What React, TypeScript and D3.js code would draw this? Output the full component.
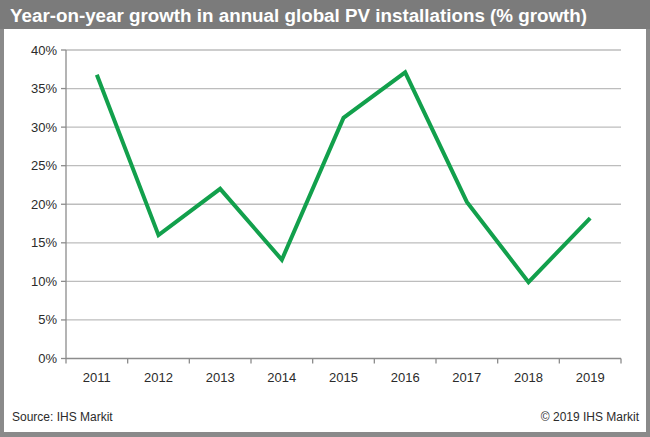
import React from "react";
import * as d3 from "d3";

const years = ["2011", "2012", "2013", "2014", "2015", "2016", "2017", "2018", "2019"];
const growth = [36.8, 16.0, 22.0, 12.8, 31.2, 37.1, 20.3, 9.9, 18.2];
const yTicks = [0, 5, 10, 15, 20, 25, 30, 35, 40];
const title = "Year-on-year growth in annual global PV installations (% growth)";
const source = "Source: IHS Markit";
const copyright = "© 2019 IHS Markit";

export default function App() {
  const W = 650, H = 437;
  const left = 66, right = 621, top = 50, bottom = 358.5;
  const x = d3.scaleBand<string>().domain(years).range([left, right]);
  const y = d3.scaleLinear().domain([0, 40]).range([bottom, top]);
  const line = d3
    .line<number>()
    .x((_, i) => (x(years[i]) as number) + x.bandwidth() / 2)
    .y((d) => y(d));
  const font = "'Liberation Sans', Arial, sans-serif";
  return (
    <svg width={W} height={H} style={{ position: "absolute", left: 0, top: 0 }} fontFamily={font}>
      <rect x={0} y={0} width={W} height={H} fill="#8a8a8a" />
      <rect x={4} y={29} width={W - 8} height={H - 29 - 5} fill="#ffffff" />
      <rect x={0} y={0} width={W} height={29} fill="#7b7b7b" />
      <text x={10} y={22} fill="#ffffff" fontSize={18.8} fontWeight="bold">
        {title}
      </text>
      {yTicks.map((t) => (
        <g key={t}>
          {t > 0 && (
            <line x1={left} x2={right} y1={y(t)} y2={y(t)} stroke="#bdbdbd" strokeWidth={1.3} />
          )}
          <line x1={left - 5} x2={left} y1={y(t)} y2={y(t)} stroke="#8c8c8c" strokeWidth={1.3} />
          <text x={left - 9} y={y(t) + 4.5} textAnchor="end" fontSize={13} fill="#2b2b2b">
            {t + "%"}
          </text>
        </g>
      ))}
      <line x1={left} x2={left} y1={top} y2={bottom} stroke="#8c8c8c" strokeWidth={1.3} />
      <line x1={left} x2={right} y1={bottom} y2={bottom} stroke="#8c8c8c" strokeWidth={1.3} />
      {years.map((yr, i) => (
        <g key={yr}>
          <line
            x1={(x(yr) as number) + x.bandwidth()}
            x2={(x(yr) as number) + x.bandwidth()}
            y1={bottom}
            y2={bottom + 5}
            stroke="#8c8c8c"
            strokeWidth={1.3}
          />
          {i === 0 && (
            <line x1={left} x2={left} y1={bottom} y2={bottom + 5} stroke="#8c8c8c" strokeWidth={1.3} />
          )}
          <text
            x={(x(yr) as number) + x.bandwidth() / 2}
            y={bottom + 23}
            textAnchor="middle"
            fontSize={13}
            fill="#2b2b2b"
          >
            {yr}
          </text>
        </g>
      ))}
      <path d={line(growth) || ""} fill="none" stroke="#12a04c" strokeWidth={4} strokeLinejoin="miter" />
      <text x={12} y={421} fontSize={12} fill="#2b2b2b">
        {source}
      </text>
      <text x={639} y={421} textAnchor="end" fontSize={12} fill="#2b2b2b">
        {copyright}
      </text>
    </svg>
  );
}
